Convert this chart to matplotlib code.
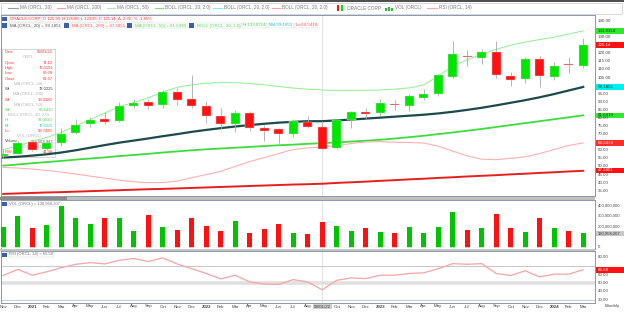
import matplotlib
matplotlib.use('Agg')
import matplotlib.pyplot as plt
from matplotlib.patches import Rectangle

W, H = 624, 312
plt.rcParams['font.family'] = ['Liberation Sans', 'DejaVu Sans']

# monthly ORCL bars, Nov 2020 .. Mar 2024
months = ['Nov', 'Dec', '2021', 'Feb', 'Mar', 'Apr', 'May', 'Jun', 'Jul', 'Aug', 'Sep', 'Oct',
          'Nov', 'Dec', '2022', 'Feb', 'Mar', 'Apr', 'May', 'Jun', 'Jul', 'Aug', 'Sep', 'Oct',
          'Nov', 'Dec', '2023', 'Feb', 'Mar', 'Apr', 'May', 'Jun', 'Jul', 'Aug', 'Sep', 'Oct',
          'Nov', 'Dec', '2024', 'Feb', 'Mar']
opens = [56.3, 57.9, 64.9, 60.6, 64.8, 70.6, 76.2, 79.5, 78.0, 87.6, 89.8, 88.0,
         96.0, 91.8, 87.6, 81.4, 76.0, 83.3, 73.8, 72.9, 70.0, 77.3, 74.12, 61.3,
         78.7, 83.8, 82.8, 88.9, 87.5, 92.2, 94.8, 105.6, 118.3, 117.3, 121.0, 106.0,
         103.9, 116.3, 105.1, 113.4, 112.1]
highs = [60.5, 66.0, 66.0, 66.2, 73.5, 79.5, 80.3, 83.5, 90.0, 91.8, 92.0, 97.5,
         98.5, 106.3, 90.3, 86.2, 84.8, 84.2, 75.6, 73.5, 79.5, 81.0, 78.41, 79.5,
         84.5, 86.0, 91.5, 91.0, 95.0, 97.7, 107.5, 127.8, 122.0, 122.5, 127.6, 108.5,
         117.5, 118.5, 114.5, 117.9, 129.3]
lows = [55.3, 57.5, 59.6, 60.0, 62.5, 70.0, 74.5, 76.3, 77.3, 86.0, 85.5, 86.0,
        88.0, 86.0, 77.1, 73.1, 71.2, 72.2, 66.0, 64.5, 68.0, 73.5, 60.78, 60.8,
        73.6, 79.1, 81.0, 85.0, 84.0, 91.0, 93.5, 104.5, 112.0, 113.5, 104.5, 99.5,
        101.8, 99.3, 103.5, 107.6, 111.1]
closes = [57.7, 64.7, 60.4, 64.6, 70.2, 75.8, 78.8, 77.8, 87.1, 89.5, 87.2, 95.9,
          91.0, 87.2, 81.3, 76.2, 82.8, 73.5, 72.1, 70.0, 78.3, 74.2, 61.07, 78.6,
          83.4, 82.5, 89.0, 88.0, 93.5, 95.1, 106.5, 119.5, 117.6, 120.6, 106.3, 103.6,
          116.3, 106.0, 112.1, 112.9, 125.14]
volume_m = [195, 302, 185, 208, 393, 279, 218, 282, 282, 158, 313, 188,
            161, 279, 205, 151, 255, 138, 168, 222, 134, 124, 242, 205,
            151, 185, 141, 131, 195, 138, 188, 336, 161, 178, 316, 178,
            145, 279, 178, 151, 131]
rsi = [58.8, 66.0, 59.2, 63.2, 68.0, 72.0, 74.0, 72.4, 76.8, 78.8, 75.2, 79.6,
       72.4, 66.8, 61.2, 54.8, 59.2, 51.2, 48.8, 48.4, 54.0, 51.2, 42.0, 53.2,
       56.0, 55.2, 59.2, 59.2, 61.2, 62.0, 66.8, 72.8, 72.0, 72.8, 61.2, 58.8,
       64.4, 57.2, 60.4, 60.4, 65.58]
ma20 = [55.5, 56.0, 56.7, 57.5, 58.6, 60.0, 61.6, 63.2, 64.7, 66.0, 67.3, 68.7,
        70.0, 71.4, 72.6, 73.7, 74.7, 75.6, 76.4, 77.1, 77.6, 78.0, 78.0, 78.5,
        79.0, 79.6, 80.2, 80.8, 81.4, 82.0, 82.8, 83.8, 85.0, 86.3, 87.8, 89.4,
        91.0, 92.8, 94.8, 97.0, 99.19]
ma50 = [50.5, 51.2, 52.0, 52.7, 53.4, 54.2, 54.9, 55.6, 56.4, 57.1, 57.8, 58.6,
        59.3, 60.0, 60.6, 61.1, 61.6, 62.1, 62.6, 63.1, 63.5, 64.0, 64.4, 64.9,
        65.4, 65.9, 66.5, 67.3, 68.1, 69.0, 70.0, 71.0, 72.1, 73.2, 74.4, 75.6,
        76.8, 78.0, 79.2, 80.4, 81.64]
ma200 = [33.0, 33.3, 33.6, 33.9, 34.1, 34.4, 34.7, 35.0, 35.3, 35.6, 35.9, 36.1,
         36.4, 36.7, 37.0, 37.3, 37.6, 37.9, 38.2, 38.5, 38.8, 39.0, 39.3, 39.8,
         40.2, 40.6, 41.1, 41.5, 42.0, 42.4, 42.9, 43.3, 43.8, 44.2, 44.6, 45.1,
         45.5, 46.0, 46.4, 46.9, 47.3]
boll_hi = [60.5, 62.5, 65.5, 68.0, 71.0, 75.0, 79.0, 83.0, 87.0, 89.5, 92.5, 96.0,
           99.0, 100.5, 101.5, 102.0, 101.8, 101.3, 100.5, 99.5, 98.5, 97.8, 97.3, 97.0,
           97.0, 97.1, 97.3, 97.8, 98.6, 100.4, 106.0, 112.0, 116.0, 119.5, 122.5, 125.0,
           127.0, 128.5, 130.0, 132.0, 133.83]
boll_lo = [49.4, 49.0, 48.4, 47.5, 46.5, 45.3, 44.0, 42.8, 41.5, 40.5, 40.0, 40.0,
           41.0, 43.0, 45.0, 47.0, 50.0, 53.0, 55.5, 58.0, 60.5, 61.5, 62.0, 63.0,
           64.2, 65.2, 65.3, 65.0, 64.8, 64.5, 62.5, 59.5, 56.5, 54.5, 54.2, 55.0,
           56.0, 58.0, 60.5, 63.0, 64.54]

price_ticks = [140, 130, 120, 115, 110, 105, 95, 90, 85, 80, 75, 70, 60, 55, 50, 45, 40, 35]
vol_ticks = [400, 300, 200, 0]
rsi_ticks = [80, 60, 50, 40, 30]

GREEN = '#00e600'
RED = '#ff1111'
XMIN = -2.2 / 14.5
XMAX = XMIN + 594 / 14.5
n = len(months)
xs = list(range(n))


def rect_px(x0, y0, x1, y1):
    return [x0 / W, 1 - y1 / H, (x1 - x0) / W, (y1 - y0) / H]


def txt(x, y, s, **kw):
    kw.setdefault('fontsize', 3.3)
    kw.setdefault('va', 'center')
    return fig.text(x / W, 1 - y / H, s, **kw)


def box(x, y, w, h, **kw):
    fig.add_artist(Rectangle((x / W, 1 - (y + h) / H), w / W, h / H,
                             transform=fig.transFigure, **kw))


def seq(x, y, items, gap=2.5, **kw):
    # lay texts one after the other so the little boxes never overlap
    r = fig.canvas.get_renderer()
    for s, col in items:
        t = txt(x, y, s, color=col, **kw)
        x = t.get_window_extent(renderer=r).x1 + gap
    return x


fig = plt.figure(figsize=(W / 100, H / 100), dpi=100)
fig.patch.set_facecolor('white')

# ---- panels
ax = fig.add_axes(rect_px(1, 15, 595, 196))
axv = fig.add_axes(rect_px(1, 200, 595, 249))
axr = fig.add_axes(rect_px(1, 251, 595, 303))
for a in (ax, axv, axr):
    a.set_xlim(XMIN, XMAX)
    a.set_xticks([])
    a.set_yticks([])
    for s in a.spines.values():
        s.set_color('#8a97aa')
        s.set_linewidth(0.7)
    a.axvline(22, color='#e2e2e2', lw=0.8, zorder=0)

ax.set_ylim(140 - 175 / 1.616, 140 + 6 / 1.616)
axv.set_ylim(-22.4, 455.6)
axr.set_ylim(30 - 3 / 0.85, 30 + 49 / 0.85)

# ---- data window (under the marks)
ax.add_patch(Rectangle((2 / W, 1 - 157 / H), 53 / W, 108 / H, transform=fig.transFigure,
                       fc='white', ec='#c4c4c4', lw=0.5, zorder=1, clip_on=False))
rows = [
    (52.3, 'Date', '09/01/22', '#ff3030'), (57.3, None, 'ORCL', None),
    (62.7, 'Open', '74.12', '#ff3030'), (68, 'High', '78.4101', '#ff3030'),
    (73.3, 'Low', '60.78', '#ff3030'), (78.7, 'Close', '61.07', '#ff3030'),
    (83.7, None, 'MA (ORCL, 20)', None), (88.7, 'Wt', '78.0225', '#444444'),
    (94.3, None, 'MA (ORCL, 200)', None), (99.7, 'Wt', '39.3186', '#ff3030'),
    (105, None, 'MA (ORCL, 50)', None), (110.3, 'Wt', '63.6415', '#3ddc3d'),
    (115.3, None, 'BOLL (ORCL, 20, 2.0)', None), (120.3, 'Hi', '96.3020', '#3ddc3d'),
    (125.7, 'Mi', '78.0225', '#22c8c8'), (130.7, 'Lo', '59.7425', '#ff3030'),
    (136.3, None, 'VOL (ORCL)', None), (141.3, 'Volume', '236,563,347', '#555555'),
    (146.7, None, 'RSI (ORCL, 14)', None), (152, 'RSI', '41.48', '#ff3030'),
]
dw = dict(transform=fig.transFigure, fontsize=3.0, va='center', zorder=1.5, clip_on=False)
for y, lab, val, col in rows:
    if lab is None:
        ax.text(28.5 / W, 1 - y / H, val, color='#b0b0b0', ha='center', **dw)
    else:
        ax.text(5 / W, 1 - y / H, lab, color=col, **dw)
        ax.text(53 / W, 1 - y / H, val, color=col, ha='right', **dw)

# ---- main price panel
ax.plot(xs, ma200, color='#e61e1e', lw=1.4, zorder=2)
ax.plot(xs, ma50, color='#3ddc3d', lw=1.3, zorder=2)
ax.plot(xs, boll_lo, color='#ffb0b0', lw=0.8, zorder=2)
ax.plot(xs, boll_hi, color='#9cf09c', lw=0.8, zorder=2)
ax.plot(xs, ma20, color='#1d4a4a', lw=1.6, zorder=2)

for i in xs:
    up = closes[i] >= opens[i]
    c = GREEN if up else RED
    ax.vlines(i, lows[i], highs[i], color='#a8a8a8', lw=0.6, zorder=3)
    lo, hi = min(opens[i], closes[i]), max(opens[i], closes[i])
    ax.add_patch(Rectangle((i - 0.31, lo), 0.62, max(hi - lo, 0.5), fc=c,
                           ec='#d8d8d8', lw=0.3, zorder=4))

# ---- volume panel
for i in xs:
    up = closes[i] >= opens[i]
    c = '#00c400' if up else RED
    light = '#b8f0b8' if up else '#ffbcbc'
    axv.bar(i, volume_m[i], width=0.36, color=c, zorder=3)
    axv.bar(i, -10, width=0.36, color=light, zorder=3)

# ---- rsi panel
for lv, lw, col in ((70, 0.7, '#c8c8c8'), (50, 2.6, '#e0e0e0'), (30, 0.7, '#c8c8c8')):
    axr.axhline(lv, color=col, lw=lw, zorder=1)
axr.plot(xs, rsi, color='#f6a4a4', lw=0.9, zorder=3)

# ---- top legend strip
box(0, 0, W, 2.2, fc='#505050', ec='none')
box(0.5, 3, 621, 10.5, fc='white', ec='#c8c8c8', lw=0.5)
legend_lines = [(8, 18, '#999999', 'MA (ORCL, 20)'), (57, 65, '#ff9a9a', 'MA (ORCL, 200)'),
                (107, 115, '#a6f0a6', 'MA (ORCL, 50)'), (155, 163, '#7ee07e', 'BOLL (ORCL, 20, 2.0)'),
                (213, 222, '#7eeeee', 'BOLL (ORCL, 20, 2.0)'), (272, 280, '#ffa0a0', 'BOLL (ORCL, 20, 2.0)')]
for x0, x1, col, lab in legend_lines:
    fig.add_artist(plt.Line2D([x0 / W, x1 / W], [1 - 8 / H] * 2, color=col, lw=0.8))
    txt(x1 + 2, 8, lab, color='#777777')
box(337, 5.5, 2.2, 5, fc=RED, ec='none')
box(341, 5, 2.2, 6, fc=GREEN, ec='none')
txt(347, 8, 'ORACLE CORP', color='#777777')
for k, hh in enumerate((2.5, 4, 3)):
    box(385 + k * 2.8, 10.5 - hh, 2, hh, fc='#2fbf2f', ec='none')
txt(395, 8, 'VOL (ORCL)', color='#777777')
fig.add_artist(plt.Line2D([427 / W, 437 / W], [1 - 8 / H] * 2, color='#ffaaaa', lw=0.8))
txt(439, 8, 'RSI (ORCL, 14)', color='#777777')

# ---- main header rows
bb = dict(boxstyle='square,pad=0.15', fc='white', ec='#cfcfcf', lw=0.3)
box(2, 16.8, 5, 4.4, fc='#3a5fae', ec='none')
row1 = [('ORACLE CORP', '#ff3030'), ('O 126.90', '#ff3030'), ('H 126.80', '#ff3030'),
        ('L 124.85', '#ff3030'), ('C 125.14', '#ff3030'), ('\u0394 -2.36', '#ff3030'),
        ('% -1.85%', '#ff3030')]
seq(10, 19.5, row1, fontsize=3.0, bbox=bb)

x = 10
for grp in ([('MA (ORCL, 20) = 99.1851', '#555555')],
            [('MA (ORCL, 200) = 47.5851', '#ff5050')],
            [('MA (ORCL, 50) = 81.6410', '#4fd84f')],
            [('BOLL (ORCL, 20, 2.0)', '#4fd84f'), ('Hi:133.8314', '#4fd84f'),
             ('Mid:99.1851', '#22c8c8'), ('Lo:64.5418', '#ff5050')]):
    box(x - 8, 23.3, 5, 4.4, fc='#3a5fae', ec='none')
    x = seq(x, 25.5, grp, fontsize=3.2, bbox=bb) + 8

# ---- right axis labels
def py(p):
    return 21 + (140 - p) * 1.616


for p in price_ticks:
    txt(598, py(p), '%.2f' % p, color='#444444', fontsize=3.2)
for p, s, fc, tc in ((133.8314, '133.8314', '#2ee82e', '#1a3a1a'), (125.14, '125.14', RED, 'white'),
                     (99.1851, '99.1851', '#00f0f0', '#1a3a3a'), (81.641, '81.6410', '#2ee82e', '#1a3a1a'),
                     (64.5418, '64.5418', '#ff2a2a', 'white'), (47.5851, '47.5851', RED, 'white')):
    box(596, py(p) - 2.8, 28, 5.6, fc=fc, ec='none')
    txt(598, py(p), s, color=tc, fontsize=3.2)

for v in vol_ticks:
    txt(598, 246.7 - v * 0.1025, '{:,}'.format(v * 1000000), color='#444444', fontsize=3.0)
box(596, 231.2, 28, 5, fc='#c8c8c8', ec='none')
txt(598, 233.7, '130,958,207', color='#333333', fontsize=3.0)

for v in rsi_ticks:
    txt(598, 300 - (v - 30) * 0.85, '%.2f' % v, color='#444444', fontsize=3.2)
box(596, 300 - (65.58 - 30) * 0.85 - 2.8, 28, 5.6, fc=RED, ec='none')
txt(598, 300 - (65.58 - 30) * 0.85, '65.58', color='white', fontsize=3.2)

# ---- panel headers and separators
box(0, 196.5, 595, 3, fc='#c0c0c0', ec='none')
box(0, 196.5, 67, 3, fc='#8c8c8c', ec='none')
box(0, 249, 595, 2, fc='#c4c4c4', ec='none')
box(2, 201.5, 5, 4, fc='#3a5fae', ec='none')
txt(9, 203.5, 'VOL (ORCL) = 130,958,207', color='#777777', bbox=bb, fontsize=3.0)
box(2, 252.5, 5, 4, fc='#3a5fae', ec='none')
txt(9, 254.5, 'RSI (ORCL, 14) = 65.58', color='#777777', bbox=bb, fontsize=3.0)

# ---- date axis
for i, m in enumerate(months):
    x = 3.2 + 14.5 * i
    if i == 22:
        txt(x, 306.5, '09/01/22', color='#333333', ha='center', fontsize=3.2,
            bbox=dict(boxstyle='square,pad=0.2', fc='#cfcfcf', ec='none'))
    else:
        txt(x, 306.5, m, color='#444444', ha='center', fontsize=3.2,
            fontweight='bold' if m.isdigit() else 'normal')
txt(612, 306.5, 'Monthly', color='#444444', ha='center', fontsize=3.2)

plt.savefig('out.png', dpi=100)
